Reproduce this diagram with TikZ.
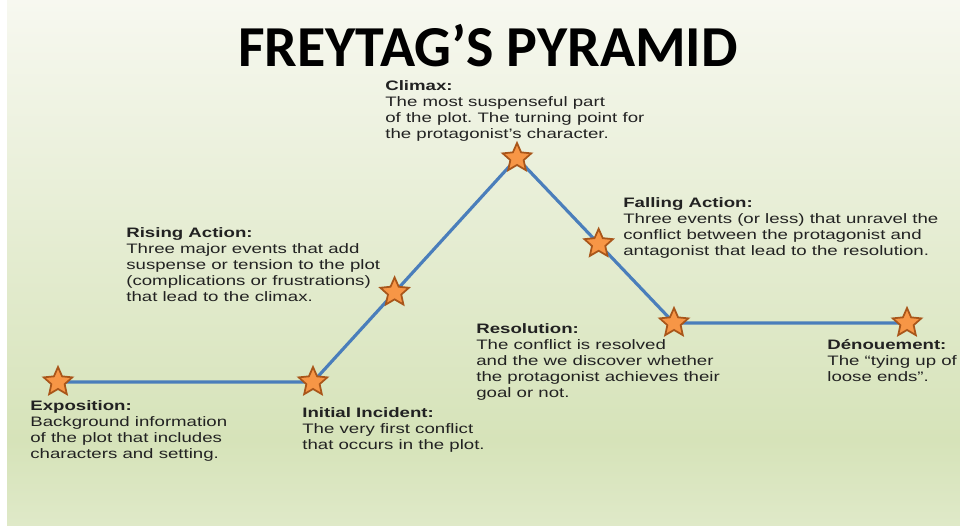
\documentclass[tikz,border=0pt]{standalone}
\usepackage{fontspec}
\setmainfont{Liberation Sans}[FakeStretch=1.36]
\newfontfamily\titlefont{Carlito}
\usetikzlibrary{shapes.geometric,calc,backgrounds}
\definecolor{bgtop}{HTML}{F7F8F0}
\definecolor{bgmid}{HTML}{D6E3B9}
\definecolor{bgbot}{HTML}{DFE9C8}
\definecolor{lineblue}{HTML}{4A7EBB}
\definecolor{starorange}{HTML}{F79646}
\definecolor{stardark}{HTML}{A9561A}
\definecolor{inkgray}{HTML}{222222}
\frenchspacing
\begin{document}
\begin{tikzpicture}[
x=0.02cm, y=-0.02cm,
stage/.style={
anchor=north west,
align=left,
inner sep=0pt,
font=\fontsize{7.8}{9.1}\selectfont,
text=inkgray
},
plotline/.style={line width=1.8pt, draw=lineblue, line join=miter},
plotstar/.style={
star, star points=5, star point ratio=2.15,
minimum size=0.6cm, inner sep=0pt,
fill=starorange, draw=stardark, line width=1pt
}
]
\useasboundingbox (0,0) rectangle (960,526);
% stars along the plot line
\node[plotstar] (sexpo) at (58,382) {};
\node[plotstar] (sinc) at (313,382) {};
\node[plotstar] (sclimax) at (517,158) {};
\node[plotstar] (sresol) at (674,323) {};
\node[plotstar] (sdenou) at (907,323) {};
\node[plotstar] (srise) at ($(sinc)!0.4!(sclimax)$) {};
\node[plotstar] (sfall) at ($(sclimax)!0.52!(sresol)$) {};
\begin{scope}[on background layer]
\fill[white] (0,0) rectangle (960,526);
\shade[top color=bgtop, bottom color=bgmid] (7,0) rectangle (960,440);
\shade[top color=bgmid, bottom color=bgbot] (7,440) rectangle (960,526);
\draw[plotline] (sexpo.center) -- (sinc.center) -- (sclimax.center)
  -- (sresol.center) -- (sdenou.center);
\end{scope}
\node[font=\titlefont\bfseries\fontsize{33}{36}\selectfont, anchor=base,
text=black] (title) at (488,67) {FREYTAG’S PYRAMID};
% labels
\node[stage] (expo) at (30,400)
{\textbf{Exposition:}\\Background information\\of the plot that includes\\characters and setting.};
\node[stage] (incident) at (302,407)
{\textbf{Initial Incident:}\\The very first conflict\\that occurs in the plot.};
\node[stage] (rising) at (126,227)
{\textbf{Rising Action:}\\Three major events that add\\suspense or tension to the plot\\(complications or frustrations)\\that lead to the climax.};
\node[stage] (climax) at (385,80)
{\textbf{Climax:}\\The most suspenseful part\\of the plot. The turning point for\\the protagonist’s character.};
\node[stage] (falling) at (623,197)
{\textbf{Falling Action:}\\Three events (or less) that unravel the\\conflict between the protagonist and\\antagonist that lead to the resolution.};
\node[stage] (resolution) at (476,323)
{\textbf{Resolution:}\\The conflict is resolved\\and the we discover whether\\the protagonist achieves their\\goal or not.};
\node[stage] (denouement) at (827,339)
{\textbf{Dénouement:}\\The “tying up of\\loose ends”.};
\end{tikzpicture}
\end{document}
